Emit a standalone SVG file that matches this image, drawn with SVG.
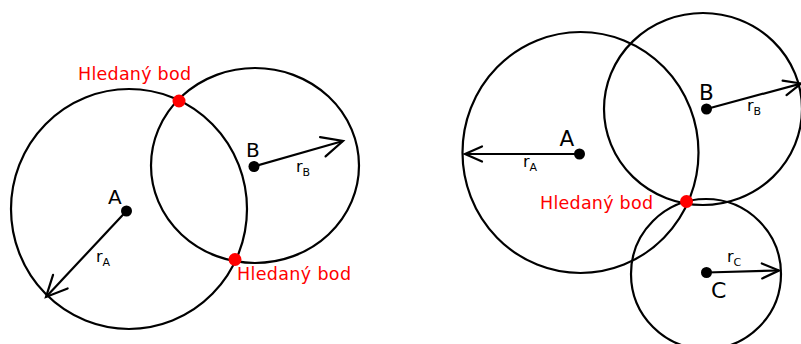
<svg xmlns="http://www.w3.org/2000/svg" width="801" height="344" viewBox="0 0 801 344">
<style>
.c{fill:none;stroke:#000;stroke-width:2.2}
.dot{fill:#000}
.hit{fill:#f00}
.lbl{font-family:"DejaVu Sans",sans-serif;fill:#000}
.red{font-family:"DejaVu Sans",sans-serif;fill:#f00;font-size:17.5px}
.r{font-family:"DejaVu Sans",sans-serif;fill:#000;font-size:16px}
.sub{font-size:11px}
.arr{fill:none;stroke:#000;stroke-width:2.2}
</style>
<defs>
<marker id="hb" markerUnits="userSpaceOnUse" markerWidth="24" markerHeight="24" refX="22" refY="11" orient="auto" overflow="visible">
<path d="M1,1 L22,11 L1,21" fill="none" stroke="#000" stroke-width="2.2" stroke-linecap="round"/>
</marker>
<marker id="hs" markerUnits="userSpaceOnUse" markerWidth="20" markerHeight="20" refX="18" refY="9" orient="auto" overflow="visible">
<path d="M1,1.5 L18,9 L1,16.5" fill="none" stroke="#000" stroke-width="2.2" stroke-linecap="round"/>
</marker>
</defs>
<g id="left-A">
<ellipse class="c" cx="129" cy="209" rx="118" ry="120"/>
<circle class="dot" cx="126.5" cy="211" r="5.5"/>
<text class="lbl" x="108" y="203.5" font-size="20">A</text>
<text class="r" x="96" y="262">r<tspan class="sub" dy="4">A</tspan></text>
</g>
<g id="left-B">
<ellipse class="c" cx="255" cy="165.5" rx="104" ry="97.5"/>
<circle class="dot" cx="254" cy="166.5" r="5.5"/>
<text class="lbl" x="246" y="157" font-size="20">B</text>
<text class="r" x="296" y="172">r<tspan class="sub" dy="4">B</tspan></text>
</g>
<g id="left-hit1">
<circle class="hit" cx="179" cy="101" r="6.5"/>
<text class="red" x="78" y="80" textLength="113">Hledaný bod</text>
</g>
<g id="left-hit2">
<circle class="hit" cx="235" cy="259.5" r="6.5"/>
<text class="red" x="237" y="280" textLength="114">Hledaný bod</text>
</g>
<g id="right-A">
<ellipse class="c" cx="580.5" cy="152.5" rx="118" ry="120.5"/>
<circle class="dot" cx="579.5" cy="154" r="5.5"/>
<text class="lbl" x="559.5" y="146" font-size="21.5">A</text>
<text class="r" x="523" y="167">r<tspan class="sub" dy="4">A</tspan></text>
</g>
<g id="right-B">
<ellipse class="c" cx="703" cy="109" rx="99" ry="96"/>
<circle class="dot" cx="706.5" cy="109" r="5.5"/>
<text class="lbl" x="699" y="100" font-size="21.5">B</text>
<text class="r" x="747" y="111">r<tspan class="sub" dy="4">B</tspan></text>
</g>
<g id="right-C">
<circle class="c" cx="706" cy="274" r="75"/>
<circle class="dot" cx="706.5" cy="272.5" r="5.5"/>
<text class="lbl" x="711" y="297.5" font-size="22">C</text>
<text class="r" x="727" y="262">r<tspan class="sub" dy="4">C</tspan></text>
</g>
<g id="right-hit">
<circle class="hit" cx="686.5" cy="201.5" r="6.5"/>
<text class="red" x="540" y="209" textLength="113">Hledaný bod</text>
</g>
<g id="connectors">
<line class="arr" x1="126.5" y1="211" x2="46" y2="297" marker-end="url(#hb)"/>
<line class="arr" x1="254" y1="166.5" x2="343" y2="141" marker-end="url(#hb)"/>
<line class="arr" x1="579.5" y1="154" x2="465" y2="154" marker-end="url(#hs)"/>
<line class="arr" x1="706.5" y1="109" x2="801" y2="83.5" marker-end="url(#hs)"/>
<line class="arr" x1="706.5" y1="272.5" x2="779" y2="270.5" marker-end="url(#hs)"/>
</g>
</svg>
